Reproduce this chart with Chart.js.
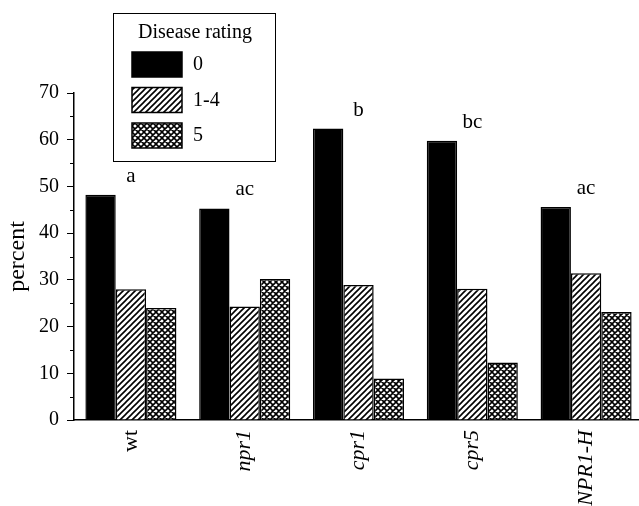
<!DOCTYPE html>
<html>
<head>
<meta charset="utf-8">
<title>Disease rating</title>
<script src="https://cdn.jsdelivr.net/npm/chart.js@4/dist/chart.umd.min.js"></script>
<style>
    html, body { margin: 0; padding: 0; background: #fff; overflow: hidden; }
    #chart { display: block; }
</style>
</head>
<body>
<canvas id="chart" width="643" height="506"></canvas>
<script>
// Data
const genotypes = ['wt', 'npr1', 'cpr1', 'cpr5', 'NPR1-H'];
const ratingLabels = ['0', '1-4', '5'];
const rating0 = [48.2, 45.3, 62.4, 59.8, 45.6];
const rating1to4 = [28.0, 24.3, 28.9, 28.1, 31.4];
const rating5 = [24.0, 30.2, 8.9, 12.3, 23.1];
const groupLetters = ['a', 'ac', 'b', 'bc', 'ac'];
const yTicks = [0, 10, 20, 30, 40, 50, 60, 70];

const SERIF = '"Liberation Serif", "Times New Roman", serif';

/**
 * Build a small repeating hatch pattern
 */
function makePattern(kind) {
    const size = 6;
    const c = document.createElement('canvas');
    c.width = size;
    c.height = size;
    const g = c.getContext('2d');
    g.fillStyle = '#fff';
    g.fillRect(0, 0, size, size);
    g.strokeStyle = '#000';
    g.lineWidth = 1.6;
    g.beginPath();
    // forward diagonals "/"
    g.moveTo(-1, size + 1); g.lineTo(size + 1, -1);
    g.moveTo(-1, 1); g.lineTo(1, -1);
    g.moveTo(size - 1, size + 1); g.lineTo(size + 1, size - 1);
    if (kind === 'cross') {
        // back diagonals "\"
        g.moveTo(-1, -1); g.lineTo(size + 1, size + 1);
        g.moveTo(size - 1, -1); g.lineTo(size + 1, 1);
        g.moveTo(-1, size - 1); g.lineTo(1, size + 1);
    }
    g.stroke();
    return g.createPattern(c, 'repeat');
}

const fills = ['#000', makePattern('hatch'), makePattern('cross')];

// letters above each group, placed from the first series
const lettersPlugin = {
    id: 'groupLetters',
    afterDatasetsDraw(chart) {
        const { ctx, scales: { x, y } } = chart;
        ctx.save();
        ctx.fillStyle = '#000';
        ctx.font = '21px ' + SERIF;
        ctx.textAlign = 'center';
        ctx.textBaseline = 'alphabetic';
        groupLetters.forEach((txt, i) => {
            ctx.fillText(txt, x.getPixelForValue(i), y.getPixelForValue(rating0[i]) - 13);
        });
        ctx.restore();
    }
};

// short minor ticks between labelled ones
const minorTicksPlugin = {
    id: 'minorTicks',
    afterDraw(chart) {
        const { ctx, chartArea, scales: { y } } = chart;
        ctx.save();
        ctx.strokeStyle = '#000';
        ctx.lineWidth = 1;
        ctx.beginPath();
        for (let i = 0; i < yTicks.length - 1; i++) {
            const py = Math.round(y.getPixelForValue((yTicks[i] + yTicks[i + 1]) / 2)) + 0.5;
            ctx.moveTo(chartArea.left - 4, py);
            ctx.lineTo(chartArea.left, py);
        }
        ctx.stroke();
        ctx.restore();
    }
};

// boxed legend in the upper left
const boxLegendPlugin = {
    id: 'boxLegend',
    afterDraw(chart) {
        const ctx = chart.ctx;
        ctx.save();
        ctx.strokeStyle = '#000';
        ctx.lineWidth = 1;
        ctx.strokeRect(113.5, 13.5, 162, 148);

        ctx.fillStyle = '#000';
        ctx.font = '20px ' + SERIF;
        ctx.textAlign = 'center';
        ctx.textBaseline = 'alphabetic';
        ctx.fillText('Disease rating', 195, 38);

        ctx.textAlign = 'left';
        ctx.textBaseline = 'middle';
        chart.data.datasets.forEach((ds, i) => {
            const top = 52 + i * 35.5;
            ctx.fillStyle = ds.backgroundColor;
            ctx.fillRect(132, top, 50, 25);
            ctx.lineWidth = 1.5;
            ctx.strokeRect(132, top, 50, 25);
            ctx.fillStyle = '#000';
            ctx.fillText(ds.label, 193, top + 13);
        });
        ctx.restore();
    }
};

const datasets = [rating0, rating1to4, rating5].map((values, i) => ({
    label: ratingLabels[i],
    data: values,
    backgroundColor: fills[i],
    borderColor: '#000',
    borderWidth: 1.5,
    borderSkipped: 'bottom',
    barPercentage: 1,
    categoryPercentage: 0.8
}));

new Chart(document.getElementById('chart'), {
    type: 'bar',
    data: { labels: genotypes, datasets: datasets },
    options: {
        responsive: false,
        animation: false,
        layout: { padding: { top: 93, right: 0, left: 0, bottom: 0 } },
        plugins: {
            legend: { display: false },
            tooltip: { enabled: false }
        },
        scales: {
            x: {
                grid: { display: false, drawTicks: false },
                border: { display: true, color: '#000', width: 1.5 },
                ticks: {
                    color: '#000',
                    padding: 10,
                    autoSkip: false,
                    minRotation: 90,
                    maxRotation: 90,
                    font: (c) => ({
                        family: SERIF,
                        size: 22,
                        style: c.index === 0 ? 'normal' : 'italic'
                    })
                },
                afterFit(scale) { scale.height = 86; }
            },
            y: {
                min: 0,
                max: 70,
                afterBuildTicks(scale) {
                    scale.ticks = yTicks.map(v => ({ value: v }));
                },
                grid: {
                    display: true,
                    drawOnChartArea: false,
                    drawTicks: true,
                    tickLength: 7,
                    color: '#000',
                    lineWidth: 1
                },
                border: { display: true, color: '#000', width: 1.5 },
                ticks: {
                    color: '#000',
                    padding: 8,
                    font: { family: SERIF, size: 20 }
                },
                title: {
                    display: true,
                    text: 'percent',
                    color: '#000',
                    font: { family: SERIF, size: 24 },
                    padding: { top: 3, bottom: 0 }
                },
                afterFit(scale) { scale.width = 74; }
            }
        }
    },
    plugins: [lettersPlugin, minorTicksPlugin, boxLegendPlugin]
});
</script>
</body>
</html>
